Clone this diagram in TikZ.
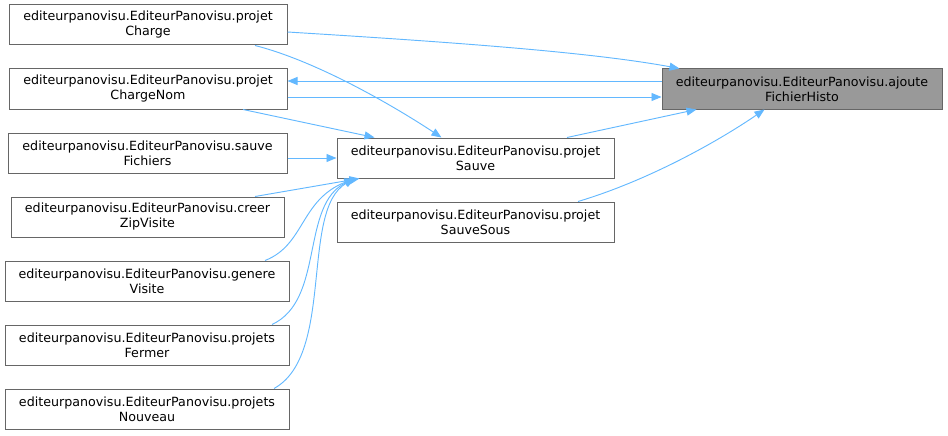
\documentclass[tikz,border=0pt]{standalone}
\usepackage{fontspec}
\setmainfont{DejaVu Sans}
\usetikzlibrary{arrows.meta,calc}
\definecolor{edgeblue}{HTML}{63B8FF}
\definecolor{boxgray}{HTML}{666666}
\definecolor{fillgray}{HTML}{999999}
\tikzset{
  fn/.style={draw=boxgray, line width=0.75pt, fill=white, minimum height=30pt, inner sep=0pt,
    align=center, font=\fontsize{9.5pt}{11.25pt}\selectfont},
  cur/.style={fn, fill=fillgray},
  edge/.style={draw=edgeblue, line width=0.7pt, -{Triangle[length=7.5pt,width=6pt]}},
}
\begin{document}
\begin{tikzpicture}[x=0.75pt,y=-0.75pt]
\useasboundingbox (0,0) rectangle (948,435);
\node[fn, minimum width=208.5pt] (pc) at (148,25) {editeurpanovisu.EditeurPanovisu.projet\\Charge};
\node[fn, minimum width=208.5pt] (pcn) at (148,89) {editeurpanovisu.EditeurPanovisu.projet\\ChargeNom};
\node[fn, minimum width=209.25pt] (sf) at (147.5,153) {editeurpanovisu.EditeurPanovisu.sauve\\Fichiers};
\node[fn, minimum width=204.75pt] (czv) at (147.5,217) {editeurpanovisu.EditeurPanovisu.creer\\ZipVisite};
\node[fn, minimum width=213pt] (gv) at (147,281) {editeurpanovisu.EditeurPanovisu.genere\\Visite};
\node[fn, minimum width=213pt] (pf) at (147,345) {editeurpanovisu.EditeurPanovisu.projets\\Fermer};
\node[fn, minimum width=213pt] (pn) at (147,409) {editeurpanovisu.EditeurPanovisu.projets\\Nouveau};
\node[fn, minimum width=207.75pt] (ps) at (475.5,158) {editeurpanovisu.EditeurPanovisu.projet\\Sauve};
\node[fn, minimum width=207.75pt] (pss) at (475.5,222) {editeurpanovisu.EditeurPanovisu.projet\\SauveSous};
\node[cur, minimum width=210pt] (afh) at (802,89) {editeurpanovisu.EditeurPanovisu.ajoute\\FichierHisto};

% edges to ajouteFichierHisto
\draw[edge] ($(pc.east)+(0,7)$) .. controls (450,42) and (590,52) .. ($(afh.north west)+(18,0)$);
\draw[edge] ($(afh.west)+(0,-8)$) -- ($(pcn.east)+(0,-8)$);
\draw[edge] ($(pcn.east)+(0,8)$) -- ($(afh.west)+(0,8)$);
\draw[edge] ($(ps.north)+(91.5,0)$) -- ($(afh.south west)+(35,0)$);
\draw[edge] ($(pss.north)+(102.5,0)$) .. controls (650,180) and (720,140) .. ($(afh.south west)+(103,0)$);

% edges to projetSauve
\draw[edge] ($(pc.south)+(107,0)$) .. controls (320,62) and (400,110) .. ($(ps.north west)+(105,0)$);
\draw[edge] ($(pcn.south)+(95,0)$) -- ($(ps.north west)+(38,0)$);
\draw[edge] (sf.east|-ps.west) -- (ps.west);
\draw[edge] ($(czv.north)+(107.5,0)$) -- ($(ps.south west)+(23,0)$);
\draw[edge] ($(gv.north)+(118,0)$) .. controls (305,245) and (300,200) .. ($(ps.south west)+(18,0)$);
\draw[edge] ($(pf.north)+(125,0)$) .. controls (325,300) and (300,205) .. ($(ps.south west)+(18,0)$);
\draw[edge] ($(pn.north)+(127,0)$) .. controls (335,355) and (300,210) .. ($(ps.south west)+(18,0)$);
\end{tikzpicture}
\end{document}
